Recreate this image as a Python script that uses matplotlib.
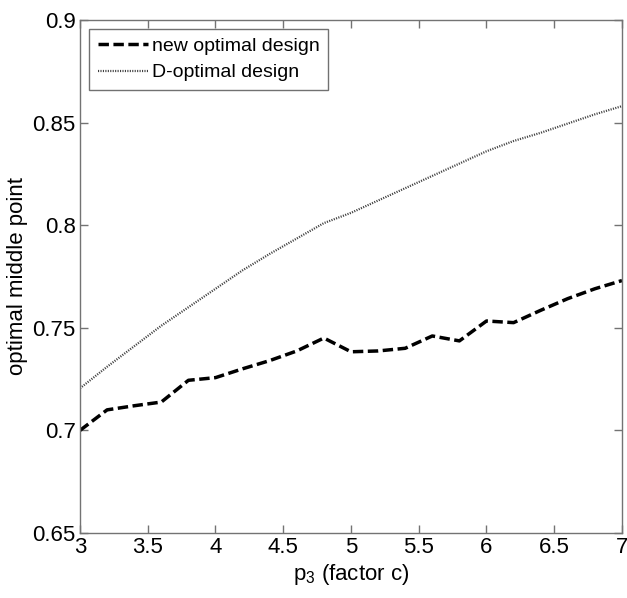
import numpy as np
import matplotlib
matplotlib.use('Agg')
import matplotlib.pyplot as plt
from matplotlib import font_manager

# pick a narrow font if it exists, else plain Arial metrics
names = set(f.name for f in font_manager.fontManager.ttflist)
fam = 'Liberation Sans Narrow' if 'Liberation Sans Narrow' in names else 'Liberation Sans'
plt.rcParams['font.family'] = [fam, 'DejaVu Sans']
plt.rcParams['mathtext.fontset'] = 'custom'
plt.rcParams['mathtext.rm'] = fam
plt.rcParams['mathtext.it'] = fam
plt.rcParams['mathtext.default'] = 'regular'

# p3 values
p3 = [3.0, 3.2, 3.4, 3.6, 3.8, 4.0, 4.2, 4.4, 4.6, 4.8, 5.0,
      5.2, 5.4, 5.6, 5.8, 6.0, 6.2, 6.4, 6.6, 6.8, 7.0]

# new optimal design (dashed)
new_opt = [0.700, 0.710, 0.712, 0.7138, 0.7244, 0.7257, 0.730, 0.734, 0.7387, 0.745, 0.7383,
           0.7387, 0.740, 0.746, 0.7436, 0.7533, 0.7525, 0.7585, 0.7642, 0.769, 0.773]

# D-optimal design (dotted)
d_opt = [0.7205, 0.731, 0.741, 0.751, 0.760, 0.769, 0.778, 0.786, 0.7935, 0.801, 0.806,
         0.812, 0.818, 0.824, 0.830, 0.836, 0.841, 0.845, 0.8495, 0.854, 0.858]

xticks = [3, 3.5, 4, 4.5, 5, 5.5, 6, 6.5, 7]
xticklabels = ['3', '3.5', '4', '4.5', '5', '5.5', '6', '6.5', '7']
yticks = [0.65, 0.7, 0.75, 0.8, 0.85, 0.9]
yticklabels = ['0.65', '0.7', '0.75', '0.8', '0.85', '0.9']

fig = plt.figure(figsize=(6.27, 5.98), dpi=100)
ax = fig.add_axes([0.1276, 0.1087, 0.8644, 0.858])

ax.plot(p3, new_opt, color='black', lw=2.5, dashes=(3.0, 1.3), label='new optimal design')
ax.plot(p3, d_opt, color='0.25', lw=1.6, linestyle=(0, (0.5, 0.6)), label='D-optimal design')

ax.set_xlim(3, 7)
ax.set_ylim(0.65, 0.9)
ax.set_xticks(xticks)
ax.set_xticklabels(xticklabels)
ax.set_yticks(yticks)
ax.set_yticklabels(yticklabels)
ax.tick_params(direction='in', length=6, width=1, color='0.45', top=True, right=True,
               labelsize=16, pad=3)
for s in ax.spines.values():
    s.set_color('0.45')
    s.set_linewidth(1)

ax.set_xlabel('p$_3$ (factor c)', fontsize=16, labelpad=3)
ax.set_ylabel('optimal middle point', fontsize=16, labelpad=3)

leg = ax.legend(loc='upper left', fontsize=14, frameon=True, fancybox=False,
                handlelength=2.6, handletextpad=0.2, borderpad=0.45, labelspacing=0.45,
                borderaxespad=0.45)
leg.get_frame().set_edgecolor('0.3')
leg.get_frame().set_linewidth(1)

fig.savefig('out.png', dpi=100)
